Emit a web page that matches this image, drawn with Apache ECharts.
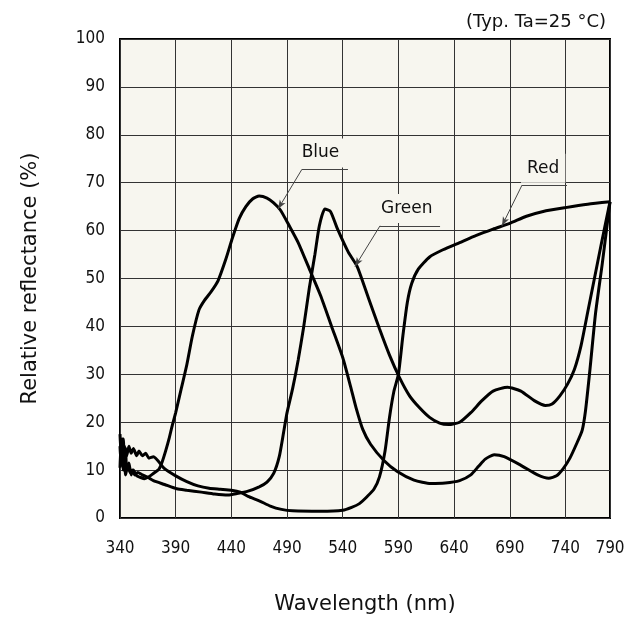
<!DOCTYPE html>
<html>
<head>
<meta charset="utf-8">
<script src="https://cdn.jsdelivr.net/npm/echarts@6/dist/echarts.min.js"></script>
<style>
html,body{margin:0;padding:0;background:#fff;}
#chart{width:630px;height:620px;}
</style>
</head>
<body>
<div id="chart"></div>
<script>
// X axis: the reference's last grid interval is compressed; the right edge carries the "790" label.
var xTickLabels = ['340','390','440','490','540','590','640','690','740','790'];
var yTickLabels = ['0','10','20','30','40','50','60','70','80','90','100'];

var blueWl  = [340,341,342,343,344,345,346,348,350,352,355,358,362,366,370,375,378,381,384,387,390,395,400,405,411,416,422,428,435,441,447,453,459,465,472,478,484,492,500,510,520,530,540,547,552,558,565,577,589,604,619,632,645,655,662,668,676,685,700,715,725,732,738,744,750,755,758,762,767,773,780];
var blueVal = [10.5,16,12,16.5,11,14.5,10,11.5,9,10,8.8,8.5,8.2,8.6,9.3,10.2,11.8,14,16.5,19.4,22,27,32,38,43.5,45.5,47.3,49.5,54,58.5,62.5,65,66.6,67.2,66.8,65.8,64.3,61,57.5,52,46.5,40,33.5,27.5,23,18.5,15.4,12,9.7,7.9,7.2,7.3,7.8,9,10.8,12.3,13.2,12.8,11,9,8.3,8.8,10.3,12.5,15.5,18.3,22.4,31,42.7,53,66];

var greenWl  = [340,341,342,343,344,345,347,349,351,353,356,360,365,370,380,391,400,413,425,437,445,455,465,472,478,483,487,490,495,500,505,510,515,519,524,529,535,545,553,563,573,582,591,600,609,618,627,635,645,655,665,675,688,700,712,722,728,735,742,748,754,760,766,772,780];
var greenVal = [15,11,14.5,10,13,9,11,9.5,10,9,9.5,9,8.5,7.8,7,6.1,5.8,5.4,5.0,4.8,5.1,5.6,6.5,7.5,9.3,12.8,18,22,27,33,40,48,55,61,64.5,64,60.5,55.5,52.5,46,39.5,34,29.3,25.5,23,21,19.8,19.5,20,22,24.5,26.5,27.3,26.5,24.5,23.5,23.8,25.5,28,31,36,43,50,57,66];

var redWl  = [340,341,342,343,344,346,348,350,352,355,357,360,363,366,370,380,390,400,410,420,430,440,448,455,465,475,485,495,520,540,548,555,562,568,573,578,582,586,590,594,598,602,608,618,630,645,660,675,690,705,720,740,760,780];
var redVal = [17.5,13,16.5,12,15,13,15,13.5,14.5,13,14,13,13.5,12.5,12.8,10.3,8.8,7.6,6.7,6.2,6,5.8,5.4,4.5,3.6,2.5,1.8,1.5,1.4,1.6,2.2,3,4.5,6,8.6,14,21,26.5,30,38,45,49,52,54.5,56,57.5,59,60.3,61.5,63,64,64.8,65.5,66];

// annotations (data coordinates)
var annotNames = ['Blue','Green','Red'];
var annotText  = [[520,76.2],[597.5,64.6],[720,73]];
var leaderFrom = [[503.4,72.8],[573.5,61.0],[701,69.5]];
var leaderTo   = [[481.9,64.5],[551,52.5],[683,61]];
var underlineTo= [[544.7,72.8],[627.4,61.0],[741.4,69.5]];

function pairs(xs, ys){ return xs.map(function(x,i){ return [x, ys[i]]; }); }

var bg = '#f7f6ef';
var font = 'DejaVu Sans';

var markLineData = [];
for (var i = 0; i < annotNames.length; i++) {
  markLineData.push([{coord: leaderFrom[i], symbol: 'none'}, {coord: leaderTo[i], symbol: 'arrow', symbolSize: [5, 9]}]);
  markLineData.push([{coord: leaderFrom[i], symbol: 'none'}, {coord: underlineTo[i], symbol: 'none'}]);
}

var lineStyle = {color: '#000', width: 3};

var chart = echarts.init(document.getElementById('chart'), null, {renderer: 'canvas'});
chart.setOption({
  backgroundColor: '#fff',
  animation: false,
  title: {
    text: '(Typ. Ta=25 °C)',
    right: 19, top: 8,
    textStyle: {fontFamily: font, fontSize: 18, fontWeight: 'normal', color: '#111'}
  },
  grid: {
    left: 120, right: 20, top: 39, bottom: 99,
    show: true, backgroundColor: bg, borderColor: '#000', borderWidth: 2
  },
  xAxis: {
    type: 'value', min: 340, max: 780, interval: 50,
    name: 'Wavelength (nm)', nameLocation: 'middle', nameGap: 76,
    nameTextStyle: {fontFamily: font, fontSize: 21, color: '#111'},
    axisLine: {show: false}, axisTick: {show: false},
    axisLabel: {
      margin: 22, fontFamily: 'DejaVu Sans Condensed', fontSize: 17, color: '#111',
      showMinLabel: true, showMaxLabel: true,
      formatter: function(v){ return xTickLabels[Math.round((v - 340) / 50)]; }
    },
    splitLine: {show: true, lineStyle: {color: '#333', width: 1}}
  },
  yAxis: {
    type: 'value', min: 0, max: 100, interval: 10,
    name: 'Relative reflectance (%)', nameLocation: 'middle', nameGap: 79,
    nameTextStyle: {fontFamily: font, fontSize: 21, color: '#111'},
    axisLine: {show: false}, axisTick: {show: false},
    axisLabel: {
      margin: 15, fontFamily: 'DejaVu Sans Condensed', fontSize: 17, color: '#111',
      formatter: function(v){ return yTickLabels[Math.round(v / 10)]; }
    },
    splitLine: {show: true, lineStyle: {color: '#333', width: 1}}
  },
  series: [
    {name: 'Blue', type: 'line', data: pairs(blueWl, blueVal), showSymbol: false, smooth: 0.2, lineStyle: lineStyle, z: 3},
    {name: 'Green', type: 'line', data: pairs(greenWl, greenVal), showSymbol: false, smooth: 0.2, lineStyle: lineStyle, z: 3},
    {name: 'Red', type: 'line', data: pairs(redWl, redVal), showSymbol: false, smooth: 0.2, lineStyle: lineStyle, z: 3},
    {
      name: 'annot', type: 'scatter', z: 2,
      data: annotText.map(function(p, i){ return {value: p, name: annotNames[i]}; }),
      symbolSize: 1, itemStyle: {color: bg},
      label: {
        show: true, position: 'inside', formatter: '{b}',
        fontFamily: font, fontSize: 17, color: '#111', opacity: 1,
        textBorderWidth: 0,
        backgroundColor: bg, padding: [3, 6, 9, 6]
      },
      silent: true,
      markLine: {
        silent: true, z: 4, symbol: ['none', 'none'],
        label: {show: false},
        lineStyle: {color: '#444', width: 1, type: 'solid'},
        emphasis: {disabled: true},
        data: markLineData
      }
    }
  ]
});
</script>
</body>
</html>
